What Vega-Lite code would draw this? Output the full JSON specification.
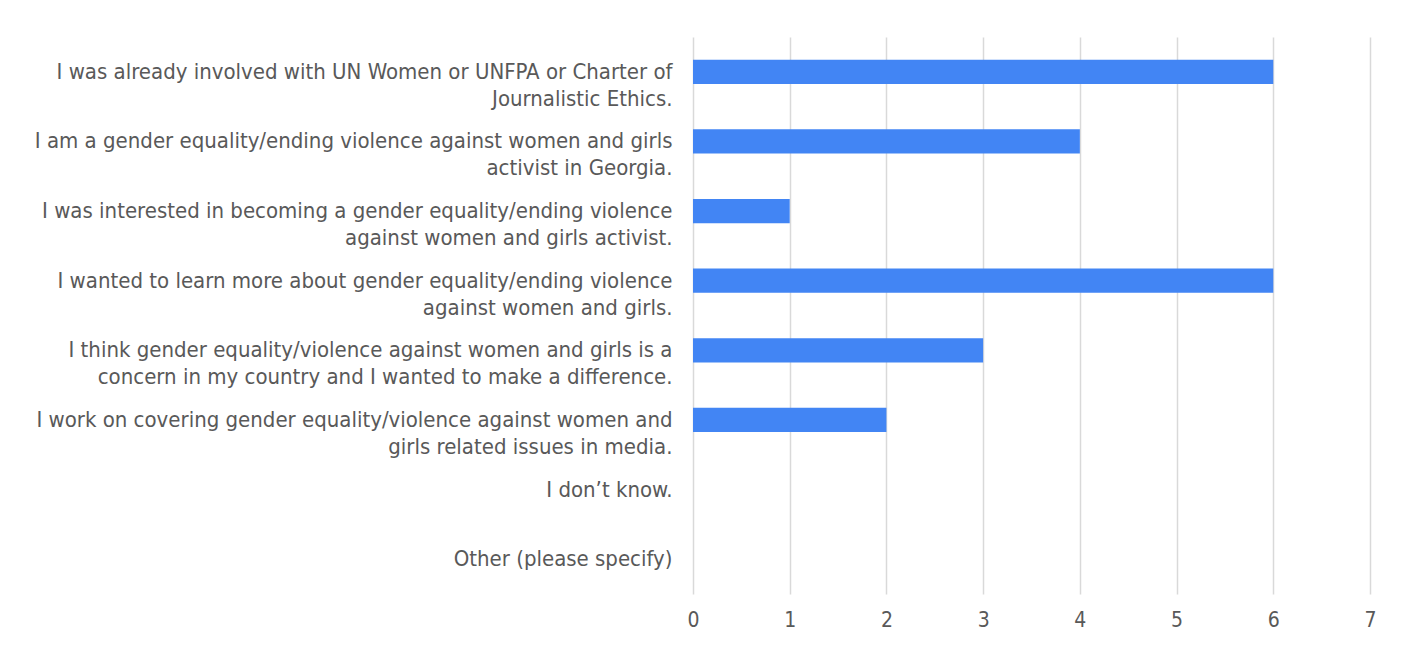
{
  "$schema": "https://vega.github.io/schema/vega-lite/v6.json",
  "autosize": "none",
  "width": 677,
  "height": 557,
  "padding": {"left": 693, "top": 37, "right": 41, "bottom": 55},
  "background": "white",
  "data": {
    "values": [
      {"reason": "I was already involved with UN Women or UNFPA or Charter of|Journalistic Ethics.", "count": 6},
      {"reason": "I am a gender equality/ending violence against women and girls|activist in Georgia.", "count": 4},
      {"reason": "I was interested in becoming a gender equality/ending violence|against women and girls activist.", "count": 1},
      {"reason": "I wanted to learn more about gender equality/ending violence|against women and girls.", "count": 6},
      {"reason": "I think gender equality/violence against women and girls is a|concern in my country and I wanted to make a difference.", "count": 3},
      {"reason": "I work on covering gender equality/violence against women and|girls related issues in media.", "count": 2},
      {"reason": "I don’t know.", "count": 0},
      {"reason": "Other (please specify)", "count": 0}
    ]
  },
  "mark": {"type": "bar", "color": "#4285f4"},
  "encoding": {
    "y": {
      "field": "reason",
      "type": "nominal",
      "sort": null,
      "scale": {"paddingInner": 0.65, "paddingOuter": 0.325},
      "axis": {
        "title": null,
        "labelExpr": "split(datum.label, '|')",
        "labelFont": "DejaVu Sans Condensed, Roboto",
        "labelFontSize": 22,
        "labelLineHeight": 27,
        "labelColor": "#595959",
        "labelPadding": 21,
        "labelLimit": 700,
        "ticks": false,
        "domain": false,
        "grid": false
      }
    },
    "x": {
      "field": "count",
      "type": "quantitative",
      "scale": {"domain": [0, 7], "nice": false},
      "axis": {
        "title": null,
        "values": [0, 1, 2, 3, 4, 5, 6, 7],
        "labelFont": "DejaVu Sans Condensed, Roboto",
        "labelFontSize": 21,
        "labelColor": "#595959",
        "labelPadding": 15,
        "labelFlush": false,
        "ticks": false,
        "domain": false,
        "grid": true,
        "gridColor": "#d9d9d9",
        "gridWidth": 1.5
      }
    }
  },
  "config": {"view": {"stroke": null}}
}
